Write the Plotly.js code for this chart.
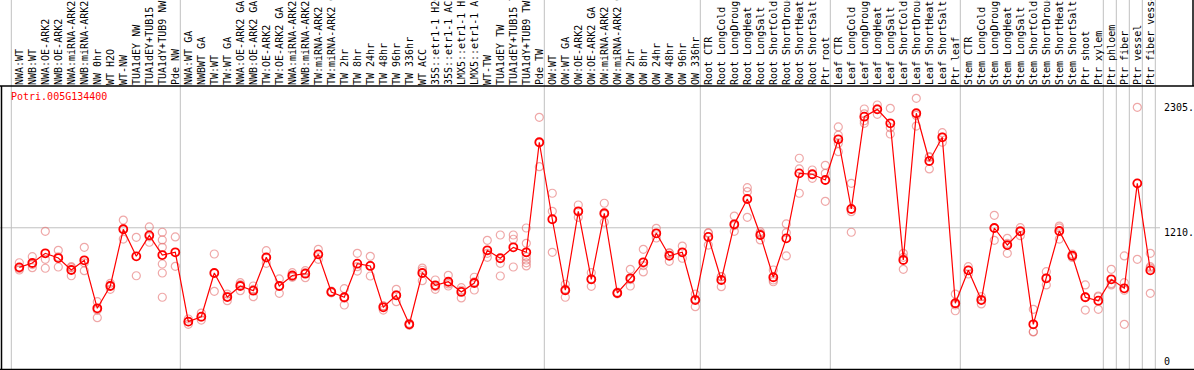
<!DOCTYPE html>
<html>
<head>
<meta charset="utf-8">
<script src="https://cdn.plot.ly/plotly-3.0.1.min.js"></script>
<style>html,body{margin:0;padding:0;background:#fff;}#chart{width:1194px;height:370px;}</style>
</head>
<body>
<div id="chart"></div>
<script>
const geneId = 'Potri.005G134400';

const categories = [
  'NWA:WT','NWB:WT','NWA:OE-ARK2','NWB:OE-ARK2','NWA:miRNA-ARK2','NWB:miRNA-ARK2','NW 0hr','WT H2O','WT-NW',
  'TUA1dEY NW','TUA1dEY+TUB15 NW','TUA1dY+TUB9 NW','Pde NW',
  'NWA:WT GA','NWBWT GA','TW:WT','TW:WT GA','NWA:OE-ARK2 GA','NWB:OE-ARK2 GA','TW:OE-ARK2','TW:OE-ARK2 GA',
  'NWA:miRNA-ARK2 GA','NWB:miRNA-ARK2 GA','TW:miRNA-ARK2','TW:miRNA-ARK2 GA','TW 2hr','TW 8hr','TW 24hr','TW 48hr',
  'TW 96hr','TW 336hr','WT ACC','35S::etr1-1 H2O','35S::etr1-1 ACC','LMX5::etr1-1 H2O','LMX5::etr1-1 ACC','WT-TW',
  'TUA1dEY TW','TUA1dEY+TUB15 TW','TUA1dY+TUB9 TW','Pde TW',
  'OW:WT','OW:WT GA','OW:OE-ARK2','OW:OE-ARK2 GA','OW:miRNA-ARK2','OW:miRNA-ARK2 GA','OW 2hr','OW 8hr','OW 24hr',
  'OW 48hr','OW 96hr','OW 336hr',
  'Root CTR','Root LongCold','Root LongDrought','Root LongHeat','Root LongSalt','Root ShortCold','Root ShortDrought',
  'Root ShortHeat','Root ShortSalt','Ptr root',
  'Leaf CTR','Leaf LongCold','Leaf LongDrought','Leaf LongHeat','Leaf LongSalt','Leaf ShortCold','Leaf ShortDrought',
  'Leaf ShortHeat','Leaf ShortSalt','Ptr leaf',
  'Stem CTR','Stem LongCold','Stem LongDrought','Stem LongHeat','Stem LongSalt','Stem ShortCold','Stem ShortDrought',
  'Stem ShortHeat','Stem ShortSalt','Ptr shoot','Ptr xylem',
  'Ptr phloem','Ptr fiber','Ptr vessel','Ptr fiber vessel'
];

const means = [
  866, 904, 988, 947, 843, 927, 510, 704, 1197, 962, 1144, 973, 997,
  394, 437, 817, 608, 704, 663, 953, 704, 795, 811, 979, 652, 606, 898, 878, 519, 623, 371, 817, 710, 741, 652, 730,
  1014, 945, 1040, 997, 1953,
  1284, 667, 1353, 762, 1336, 643, 771, 910, 1162, 967, 997, 582,
  1130, 756, 1240, 1460, 1147, 780, 1118, 1683, 1675, 1625,
  1979, 1373, 2175, 2239, 2118, 930, 2205, 1790, 1996, 554,
  840, 582, 1208, 1060, 1179, 371, 771, 1182, 967, 606, 576,
  762, 684, 1596, 840
];

const replicates = [
  [906,843,855],[959,863,890],[1179,936,858],[1014,869,958],[872,793,864],[1040,837,905],[568,495,429],
  [727,675,710],[1277,1112,1202],[1127,793],[1217,1084,1131],[1171,1104,1040,895,817,606],[1130,875],
  [417,371,394],[469,408,434],[982,658],[634,576,614],[733,663,716],[704,611,674],[1011,901,947],[765,640,707],
  [820,780,785],[837,776,820],[1023,936,978],[660,645,651],[681,539,598],[988,834,872],[962,791,881],
  [495,530,532],[675,568,626],[380,362,371],[860,750,841],[756,675,699],[797,704,722],[689,600,667],
  [780,669,741],[1101,953,988],[1147,901,791],[1147,1110,869],[1208,1075,959,930,905,878],[2170,1741,1948],
  [1510,1353,997],[719,606,676],[1408,1301,1350],[820,701,765],[1423,1258,1327],[650,636,643],[849,704,760],
  [1023,826,881],[1205,1121,1160],[993,918,990],[1051,945,995],[634,524,588],
  [1167,1060,1163],[785,698,785],[1312,1179,1229],[1558,1524,1301],[1176,1104,1161],[843,741,756],
  [1243,1167,965],[1814,1721,1510],[1712,1640,1673],[1753,1683,1440],
  [2086,1944,1871,2015],[1596,1350,1171],[2242,2140,2118,2200],[2277,2196,2244],[2248,2025,2080],
  [988,849,953],[2335,2094,2186],[1828,1721,1821],[2036,1953,1999],[634,489,539],
  [872,808,840],[611,548,587],[1318,1101,1205],[1118,988,1074],[1211,1141,1185],[501,307,305],[828,713,772],
  [1225,1112,1209],[982,952,967],[713,495,610],[617,501,610],
  [849,713,724],[965,733,371,667],[2257,936,1595],[988,872,640,860]
];

const yTickVals = [2305, 1210, 0];
const yTickText = ['2305.', '1210.', '0'];
const groupEndsAfter = [-1, 12, 40, 52, 62, 72, 83, 84, 85, 86, 87];

const W = 1194, H = 370, TOP = 86;
const PX_PER_CAT = 13, FIRST_PX = 19.3;
const Y0_PX = 367, PX_PER_UNIT = 0.11507;
const plotH = H - TOP;

const repX = [], repY = [];
replicates.forEach((arr, i) => arr.forEach(v => { repX.push(categories[i]); repY.push(v); }));

const mono = 'DejaVu Sans Mono, Liberation Mono, monospace';

const traces = [
  { type: 'scatter', mode: 'markers', x: repX, y: repY, hoverinfo: 'skip',
    marker: { symbol: 'circle-open', size: 8, color: 'rgba(228,110,110,0.6)', line: { width: 1.2 } } },
  { type: 'scatter', mode: 'lines+markers', x: categories, y: means,
    line: { color: '#ff0000', width: 1.2 },
    marker: { symbol: 'circle-open', size: 8, color: '#ff0000', line: { width: 1.8 } } }
];

const xr0 = -FIRST_PX / PX_PER_CAT;
const xr1 = xr0 + W / PX_PER_CAT;
const yr0 = (Y0_PX - H) / PX_PER_UNIT;
const yr1 = (Y0_PX - TOP) / PX_PER_UNIT;

const shapes = [];
const sepOff = 5 / PX_PER_CAT;
groupEndsAfter.forEach(i => shapes.push({ type: 'line', xref: 'x', yref: 'paper', x0: i + sepOff, x1: i + sepOff,
  y0: 0, y1: H / plotH, line: { color: '#c0c0c0', width: 1 }, layer: 'below' }));
shapes.push({ type: 'line', xref: 'paper', yref: 'y', x0: 0, x1: 1160 / W, y0: yTickVals[1], y1: yTickVals[1],
  line: { color: '#c0c0c0', width: 1 }, layer: 'below' });
// frame
shapes.push({ type: 'line', xref: 'paper', yref: 'paper', x0: 0, x1: 1, y0: 1, y1: 1, line: { color: '#000', width: 1.5 } });
shapes.push({ type: 'line', xref: 'paper', yref: 'paper', x0: 1.5 / W, x1: 1.5 / W, y0: 0, y1: 1, line: { color: '#000', width: 1.5 } });
shapes.push({ type: 'line', xref: 'paper', yref: 'paper', x0: 0, x1: 1, y0: 0.5 / plotH, y1: 0.5 / plotH, line: { color: '#000', width: 1.5 } });
shapes.push({ type: 'line', xref: 'paper', yref: 'paper', x0: 1193 / W, x1: 1193 / W, y0: 1, y1: H / plotH, line: { color: '#000', width: 1.5 } });

const shifts = [-5.6, -5, 5.3];
const annotations = yTickVals.map((v, k) => ({ xref: 'paper', yref: 'y', x: 1162 / W, y: v, text: yTickText[k],
  showarrow: false, xanchor: 'left', yanchor: 'middle', yshift: shifts[k], font: { family: mono, size: 10, color: '#000' } }));
annotations.push({ xref: 'paper', yref: 'paper', x: 9 / W, y: 1 - 11 / plotH, text: geneId, showarrow: false,
  xanchor: 'left', yanchor: 'middle', font: { family: mono, size: 10, color: '#ff0000' } });

const layout = {
  width: W, height: H,
  margin: { l: 0, r: 0, t: TOP, b: 0, pad: 0 },
  paper_bgcolor: '#fff', plot_bgcolor: '#fff',
  showlegend: false,
  xaxis: { type: 'category', side: 'top', range: [xr0, xr1], tickangle: -90, ticks: '', showgrid: false,
    zeroline: false, showline: false, automargin: false, tickfont: { family: mono, size: 10, color: '#000' } },
  yaxis: { range: [yr0, yr1], showticklabels: false, showgrid: false, zeroline: false, showline: false, automargin: false,
    tickvals: yTickVals },
  shapes: shapes,
  annotations: annotations
};

Plotly.newPlot('chart', traces, layout, { staticPlot: true, displayModeBar: false });
</script>
</body>
</html>
